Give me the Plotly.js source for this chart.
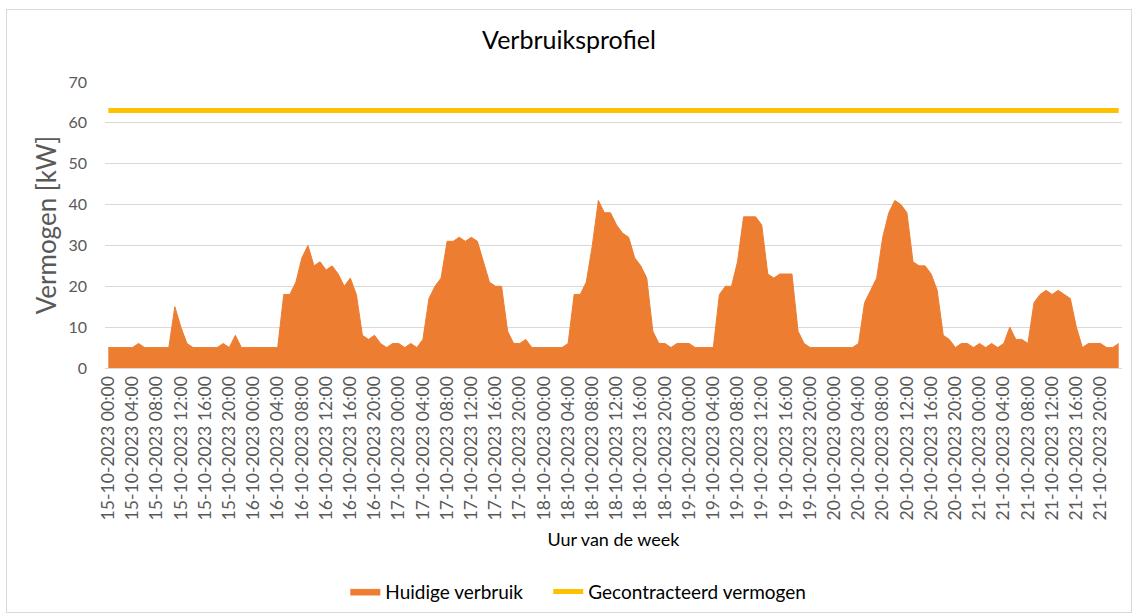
<!DOCTYPE html>
<html>
<head>
<meta charset="utf-8">
<script src="https://cdn.plot.ly/plotly-3.0.1.min.js"></script>
<style>
  html, body { margin: 0; padding: 0; background: #ffffff; }
  #frame { position: absolute; left: 6px; top: 9px; width: 1126px; height: 604px; border: 1px solid #d9d9d9; box-sizing: border-box; }
  #chart { position: absolute; left: 0; top: 0; width: 1124px; height: 602px; }
</style>
</head>
<body>
<div id="frame"><div id="chart"></div></div>
<script>
// Days of the week shown and hours of each day
const days = ["15-10-2023", "16-10-2023", "17-10-2023", "18-10-2023", "19-10-2023", "20-10-2023", "21-10-2023"];
const hoursOfDay = ["00:00","01:00","02:00","03:00","04:00","05:00","06:00","07:00","08:00","09:00","10:00","11:00",
                    "12:00","13:00","14:00","15:00","16:00","17:00","18:00","19:00","20:00","21:00","22:00","23:00"];

// Hourly consumption (kW), 168 values
const huidigeVerbruik = [
  // 15-10
  5,5,5,5,5,6,5,5,5,5,5,15,10,6,5,5,5,5,5,6,5,8,5,5,
  // 16-10
  5,5,5,5,5,18,18,21,27,30,25,26,24,25,23,20,22,18,8,7,8,6,5,6,
  // 17-10
  6,5,6,5,7,17,20,22,31,31,32,31,32,31,26,21,20,20,9,6,6,7,5,5,
  // 18-10
  5,5,5,5,6,18,18,21,30,41,38,38,35,33,32,27,25,22,9,6,6,5,6,6,
  // 19-10
  6,5,5,5,5,18,20,20,26,37,37,37,35,23,22,23,23,23,9,6,5,5,5,5,
  // 20-10
  5,5,5,5,6,16,19,22,32,38,41,40,38,26,25,25,23,19,8,7,5,6,6,5,
  // 21-10
  6,5,6,5,6,10,7,7,6,16,18,19,18,19,18,17,10,5,6,6,6,5,5,6
];

// Contracted capacity (kW)
const gecontracteerdVermogen = 63;

const labels = [];
days.forEach(d => hoursOfDay.forEach(h => labels.push(d + " " + h)));
const tickLabels = labels.filter((l, i) => i % 4 === 0);
const contractSeries = labels.map(() => gecontracteerdVermogen);

const fontFam = "Lato, 'Open Sans', sans-serif";
const grey = "#595959";

const traces = [
  {
    x: labels, y: huidigeVerbruik, type: "scatter", mode: "lines",
    fill: "tozeroy", fillcolor: "#ED7D31",
    line: { color: "#ED7D31", width: 1 },
    name: "Huidige verbruik",
    legend: "legend"
  },
  {
    x: labels, y: contractSeries, type: "scatter", mode: "lines",
    line: { color: "#FFC000", width: 5 },
    name: "Gecontracteerd vermogen",
    legend: "legend2"
  }
];

const legendBase = {
  orientation: "h", xref: "container", yref: "container",
  xanchor: "left", yanchor: "middle", y: 0.034,
  font: { family: fontFam, size: 19, color: "#000000" },
  bgcolor: "rgba(0,0,0,0)"
};

const layout = {
  width: 1124, height: 602,
  margin: { l: 98, r: 9, t: 72, b: 244 },
  paper_bgcolor: "#ffffff", plot_bgcolor: "#ffffff",
  font: { family: fontFam, color: grey },
  title: { text: "Verbruiksprofiel", font: { family: fontFam, size: 25, color: "#000000" }, x: 0.5, xanchor: "center", y: 0.95, yanchor: "middle" },
  xaxis: {
    type: "category",
    categoryorder: "array", categoryarray: labels,
    range: [-0.545, 167.545],
    tickvals: tickLabels, ticktext: tickLabels,
    tickangle: -90,
    tickfont: { family: fontFam, size: 17.6, color: grey },
    showgrid: false,
    showline: true, linecolor: "#d9d9d9", linewidth: 1,
    ticks: "",
    zeroline: false,
    automargin: false,
    title: { text: "Uur van de week", font: { family: fontFam, size: 18, color: "#000000" }, standoff: 13 }
  },
  yaxis: {
    range: [0, 70], dtick: 10,
    tickfont: { family: fontFam, size: 16, color: grey },
    showgrid: true, gridcolor: "#d9d9d9", gridwidth: 1,
    zeroline: false, showline: false, ticks: "",
    ticklabelstandoff: 17,
    automargin: false,
    title: { text: "Vermogen [kW]", font: { family: fontFam, size: 26, color: grey }, standoff: 4 }
  },
  legend: Object.assign({}, legendBase, { x: 0.301 }),
  legend2: Object.assign({}, legendBase, { x: 0.4815 }),
  showlegend: true
};

Plotly.newPlot("chart", traces, layout, { displayModeBar: false, staticPlot: true });
</script>
</body>
</html>
